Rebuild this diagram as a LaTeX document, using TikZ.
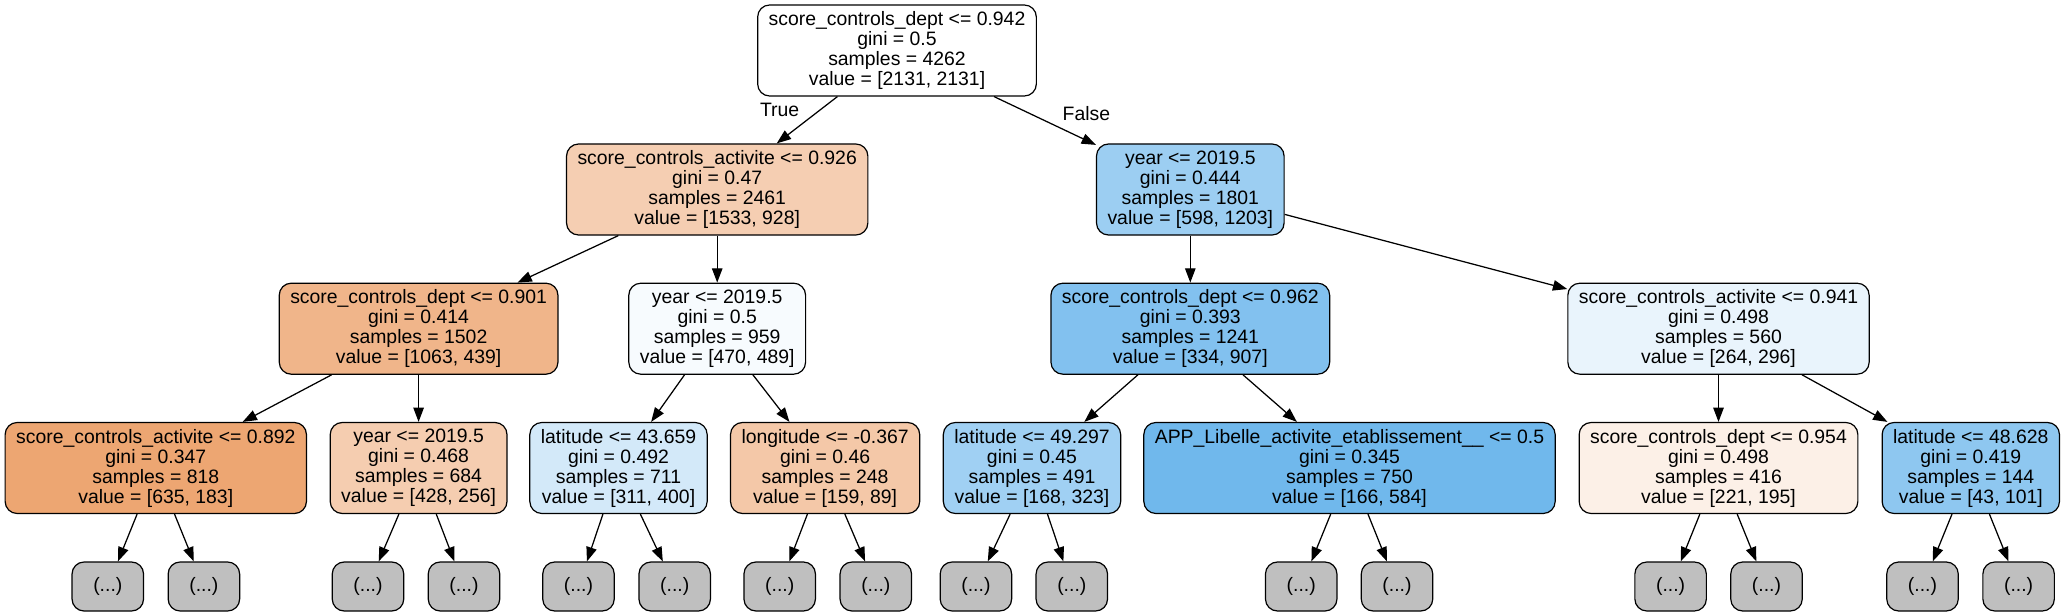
\documentclass[tikz,border=0pt]{standalone}
\usepackage{fontspec}
\setmainfont{Liberation Sans}
\usetikzlibrary{arrows.meta}

\definecolor{orng}{HTML}{E58139}
\definecolor{blu}{HTML}{399DE5}
\newcommand{\treefont}{\fontsize{19.4bp}{20bp}\selectfont}

\tikzset{
  split/.style={shape=rectangle,rounded corners=12bp,draw=black,line width=1.2bp,
    align=center,font=\treefont,inner xsep=11bp,inner ysep=0bp,minimum height=91bp},
  dots/.style={shape=rectangle,rounded corners=12bp,draw=black,line width=1.2bp,
    fill=lightgray,font=\treefont,minimum width=71.5bp,minimum height=49bp},
  tf/.style={font=\treefont,inner sep=0bp}
}
\colorlet{lightgray}{black!25}

\begin{document}
\begin{tikzpicture}[x=1bp,y=-1bp,>={Triangle[length=14.3bp,width=10.5bp]},line width=1.25bp]
            \useasboundingbox (0,0) rectangle (2064,613);

            \node[split,fill=white] (root) at (897,50.5) {score\_controls\_dept <= 0.942\\gini = 0.5\\samples = 4262\\value = [2131, 2131]};

            \node[split,fill=orng!39!white] (n1) at (717.2,189.5) {score\_controls\_activite <= 0.926\\gini = 0.47\\samples = 2461\\value = [1533, 928]};
            \node[split,fill=blu!50!white] (n2) at (1190.3,189.5) {year <= 2019.5\\gini = 0.444\\samples = 1801\\value = [598, 1203]};

            \node[split,fill=orng!59!white] (n3) at (418.6,328.7) {score\_controls\_dept <= 0.901\\gini = 0.414\\samples = 1502\\value = [1063, 439]};
            \node[split,fill=blu!4!white] (n4) at (717.2,328.7) {year <= 2019.5\\gini = 0.5\\samples = 959\\value = [470, 489]};
            \node[split,fill=blu!63!white] (n5) at (1190.3,328.7) {score\_controls\_dept <= 0.962\\gini = 0.393\\samples = 1241\\value = [334, 907]};
            \node[split,fill=blu!11!white] (n6) at (1718.5,328.7) {score\_controls\_activite <= 0.941\\gini = 0.498\\samples = 560\\value = [264, 296]};

            \node[split,fill=orng!71!white] (n7) at (155.8,468) {score\_controls\_activite <= 0.892\\gini = 0.347\\samples = 818\\value = [635, 183]};
            \node[split,fill=orng!40!white] (n8) at (418.6,468) {year <= 2019.5\\gini = 0.468\\samples = 684\\value = [428, 256]};
            \node[split,fill=blu!22!white] (n9) at (618.5,468) {latitude <= 43.659\\gini = 0.492\\samples = 711\\value = [311, 400]};
            \node[split,fill=orng!44!white] (n10) at (825.1,468) {longitude <= -0.367\\gini = 0.46\\samples = 248\\value = [159, 89]};
            \node[split,fill=blu!48!white] (n11) at (1032,468) {latitude <= 49.297\\gini = 0.45\\samples = 491\\value = [168, 323]};
            \node[split,fill=blu!72!white] (n12) at (1349.5,468) {APP\_Libelle\_activite\_etablissement\_\_ <= 0.5\\gini = 0.345\\samples = 750\\value = [166, 584]};
            \node[split,fill=orng!12!white] (n13) at (1718.5,468) {score\_controls\_dept <= 0.954\\gini = 0.498\\samples = 416\\value = [221, 195]};
            \node[split,fill=blu!57!white] (n14) at (1970.8,468) {latitude <= 48.628\\gini = 0.419\\samples = 144\\value = [43, 101]};

            \node[dots] (l1) at (107.8,586.5) {(...)};
            \node[dots] (l2) at (203.9,586.5) {(...)};
            \node[dots] (l3) at (368,586.5) {(...)};
            \node[dots] (l4) at (464,586.5) {(...)};
            \node[dots] (l5) at (578.5,586.5) {(...)};
            \node[dots] (l6) at (674.7,586.5) {(...)};
            \node[dots] (l7) at (779.7,586.5) {(...)};
            \node[dots] (l8) at (875.8,586.5) {(...)};
            \node[dots] (l9) at (975.9,586.5) {(...)};
            \node[dots] (l10) at (1071.8,586.5) {(...)};
            \node[dots] (l11) at (1301.2,586.5) {(...)};
            \node[dots] (l12) at (1397,586.5) {(...)};
            \node[dots] (l13) at (1670.6,586.5) {(...)};
            \node[dots] (l14) at (1766.5,586.5) {(...)};
            \node[dots] (l15) at (1922.5,586.5) {(...)};
            \node[dots] (l16) at (2018.6,586.5) {(...)};

            \path [->] (root) edge node[tf,pos=0.29,left=20bp] {True} (n1);
            \path [->] (root) edge node[tf,pos=0.354,right=32bp] {False} (n2);
            \path [->] (n1) edge (n3) (n1) edge (n4);
            \path [->] (n2) edge (n5) (n2) edge (n6);
            \path [->] (n3) edge (n7) (n3) edge (n8);
            \path [->] (n4) edge (n9) (n4) edge (n10);
            \path [->] (n5) edge (n11) (n5) edge (n12);
            \path [->] (n6) edge (n13) (n6) edge (n14);
            \path [->] (n7) edge (l1) (n7) edge (l2);
            \path [->] (n8) edge (l3) (n8) edge (l4);
            \path [->] (n9) edge (l5) (n9) edge (l6);
            \path [->] (n10) edge (l7) (n10) edge (l8);
            \path [->] (n11) edge (l9) (n11) edge (l10);
            \path [->] (n12) edge (l11) (n12) edge (l12);
            \path [->] (n13) edge (l13) (n13) edge (l14);
            \path [->] (n14) edge (l15) (n14) edge (l16);
        \end{tikzpicture}
\end{document}
